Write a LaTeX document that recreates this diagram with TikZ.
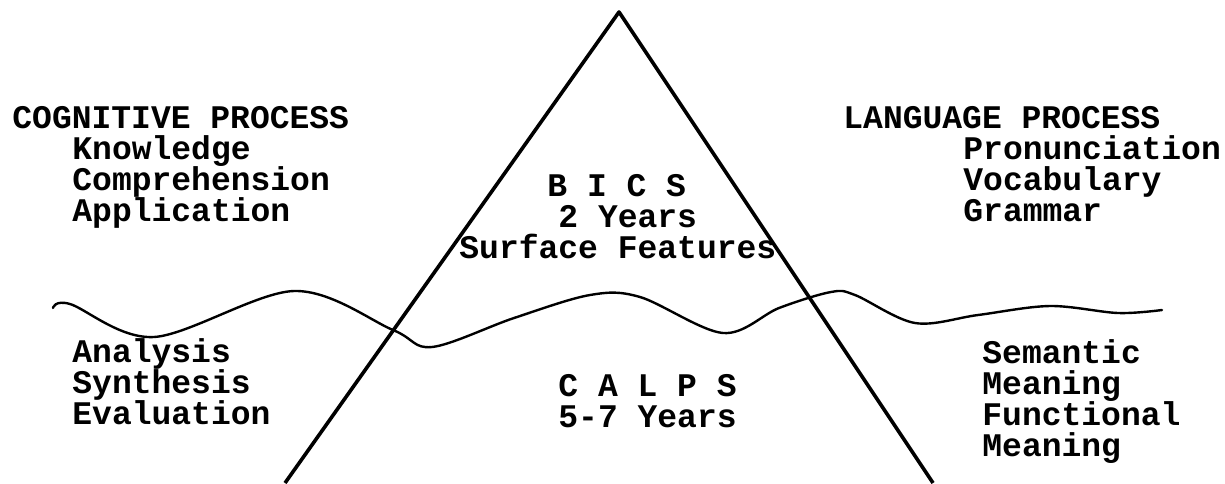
\documentclass[tikz,border=0pt]{standalone}
\usepackage{fontspec}
\setmonofont{Liberation Mono}
\usepackage{tikz}
\usetikzlibrary{positioning}

\begin{document}
\begin{tikzpicture}[
    x=0.5pt, y=-0.5pt,
    every node/.style={font=\ttfamily\bfseries\fontsize{16.5}{15.5}\selectfont, inner sep=0pt, anchor=base west},
    berg/.style={line width=1.8pt, line join=round},
    water/.style={line width=1.2pt, line cap=round, line join=round}
  ]
  \useasboundingbox (0,0) rectangle (1225,483);

  % --- Iceberg ---
  \coordinate (apex) at (619,12);
  \coordinate (lfoot) at (285,483);
  \coordinate (rfoot) at (933,483);
  \draw[berg] (lfoot) -- (apex) -- (rfoot);

  % --- Water line ---
  \draw[water] plot[smooth, tension=0.55] coordinates {
    (53,308) (70,304) (154,337) (294,291) (393,330) (432,347) (514,318)
    (590,295) (640,297) (723,333) (779,308) (831,292) (855,295) (915,323)
    (978,315) (1050,306) (1118,313) (1162,310)};

  % --- Cognitive process (left) ---
  \node (cog) at (12,128) {COGNITIVE PROCESS};
  \node (know) at (72,159) {Knowledge};
  \node (comp) at (72,190) {Comprehension};
  \node (appl) at (72,221) {Application};
  \node (anal) at (72,362) {Analysis};
  \node (synt) at (72,393) {Synthesis};
  \node (eval) at (72,424) {Evaluation};

  % --- Inside the iceberg ---
  \node (bics) at (547,196) {B I C S};
  \node (bicsyr) at (558,227) {2 Years};
  \node (surf) at (459,258) {Surface Features};
  \node (calps) at (558,396) {C A L P S};
  \node (calpsyr) at (558,427) {5-7 Years};

  % --- Language process (right) ---
  \node (lang) at (843,128) {LANGUAGE PROCESS};
  \node (pron) at (963,159) {Pronunciation};
  \node (voc) at (963,190) {Vocabulary};
  \node (gram) at (963,221) {Grammar};
  \node (sem) at (982,363) {Semantic};
  \node (mean) at (982,394) {Meaning};
  \node (func) at (982,425) {Functional};
  \node (fmean) at (982,456) {Meaning};

\end{tikzpicture}
\end{document}
